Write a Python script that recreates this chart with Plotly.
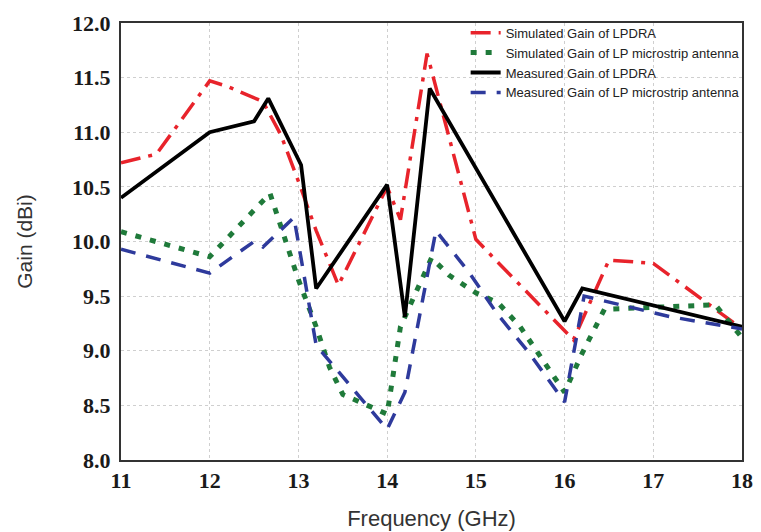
import plotly.graph_objects as go

# ---- data ----
freq_sim_lpdra = [11.0, 11.4, 12.0, 12.2, 12.6, 12.8, 13.0, 13.2, 13.45, 14.0, 14.15, 14.45, 15.0, 15.2, 16.1, 16.5, 17.0, 18.0]
gain_sim_lpdra = [10.72, 10.8, 11.47, 11.42, 11.28, 10.98, 10.55, 10.1, 9.6, 10.5, 10.2, 11.72, 10.02, 9.85, 9.1, 9.83, 9.8, 9.2]

freq_sim_lp = [11.0, 12.0, 12.68, 13.0, 13.2, 13.35, 13.5, 14.0, 14.15, 14.5, 14.7, 15.0, 15.25, 15.5, 16.0, 16.2, 16.45, 17.0, 17.7, 18.0]
gain_sim_lp = [10.09, 9.86, 10.44, 9.65, 9.22, 8.85, 8.6, 8.42, 9.22, 9.85, 9.69, 9.53, 9.44, 9.22, 8.62, 8.98, 9.38, 9.4, 9.42, 9.12]

freq_meas_lpdra = [11.0, 12.0, 12.5, 12.66, 13.03, 13.2, 14.0, 14.2, 14.48, 16.0, 16.2, 18.0]
gain_meas_lpdra = [10.40, 11.0, 11.1, 11.31, 10.7, 9.57, 10.52, 9.31, 11.40, 9.27, 9.57, 9.22]

freq_meas_lp = [11.0, 12.0, 12.5, 12.6, 12.95, 13.2, 14.0, 14.2, 14.55, 14.93, 15.23, 15.6, 16.0, 16.22, 17.2, 18.0]
gain_meas_lp = [9.93, 9.71, 10.0, 9.95, 10.22, 9.05, 8.28, 8.62, 10.1, 9.71, 9.35, 8.98, 8.53, 9.5, 9.31, 9.2]

series_names = [
    "Simulated Gain of LPDRA",
    "Simulated Gain of LP microstrip antenna",
    "Measured Gain of LPDRA",
    "Measured Gain of LP microstrip antenna",
]

x_ticks = [11, 12, 13, 14, 15, 16, 17, 18]
y_ticks = [8.0, 8.5, 9.0, 9.5, 10.0, 10.5, 11.0, 11.5, 12.0]
y_tick_text = ["8.0", "8.5", "9.0", "9.5", "10.0", "10.5", "11.0", "11.5", "12.0"]

fig = go.Figure()
fig.add_trace(go.Scatter(x=freq_sim_lpdra, y=gain_sim_lpdra, mode="lines", name=series_names[0],
                         line=dict(color="#e8232b", width=3.5, dash="20px,8px,4px,8px")))
fig.add_trace(go.Scatter(x=freq_sim_lp, y=gain_sim_lp, mode="lines", name=series_names[1],
                         line=dict(color="#1f7a3a", width=5, dash="6px,9px")))
fig.add_trace(go.Scatter(x=freq_meas_lpdra, y=gain_meas_lpdra, mode="lines", name=series_names[2],
                         line=dict(color="#000000", width=3.8)))
fig.add_trace(go.Scatter(x=freq_meas_lp, y=gain_meas_lp, mode="lines", name=series_names[3],
                         line=dict(color="#2e3a9c", width=3.5, dash="15px,11px")))

tick_font = dict(family="Liberation Serif, Times New Roman, serif", size=22, color="#1a1a1a", weight="bold")
title_font_x = dict(family="Liberation Sans, Arial, sans-serif", size=22, color="#333333")
title_font_y = dict(family="Liberation Sans, Arial, sans-serif", size=21, color="#333333")

# the page body adds an 8px offset; size and margins compensate for it
fig.update_layout(
    width=753, height=524,
    margin=dict(l=113, r=19, t=15, b=72, autoexpand=False),
    paper_bgcolor="white", plot_bgcolor="white",
    showlegend=True,
    legend=dict(x=0.555, y=1.012, xanchor="left", yanchor="top",
                bgcolor="rgba(0,0,0,0)", borderwidth=0,
                font=dict(family="Liberation Sans, Arial, sans-serif", size=13, color="#222222"),
                tracegroupgap=0, itemwidth=30),
    xaxis=dict(range=[11, 18], tickvals=x_ticks, ticktext=[str(v) for v in x_ticks],
               tickfont=tick_font, automargin=False,
               showgrid=True, gridcolor="#cfcfcf", griddash="dot", gridwidth=1,
               showline=True, linecolor="#333333", linewidth=2, mirror=True,
               ticks="", zeroline=False,
               title=dict(text="Frequency (GHz)", font=title_font_x, standoff=18)),
    yaxis=dict(range=[8, 12], tickvals=y_ticks, ticktext=y_tick_text,
               tickfont=tick_font, ticklabelstandoff=4, automargin=False,
               showgrid=True, gridcolor="#cfcfcf", griddash="dot", gridwidth=1,
               showline=True, linecolor="#333333", linewidth=2, mirror=True,
               ticks="", zeroline=False,
               title=dict(text="Gain (dBi)", font=title_font_y, standoff=34)),
)

fig.write_html("out.html")
